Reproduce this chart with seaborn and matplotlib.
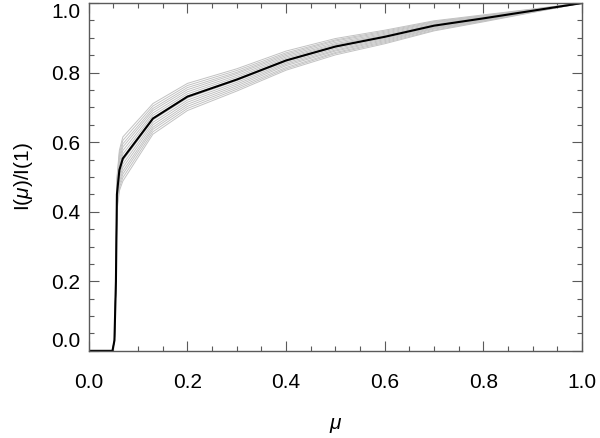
import numpy as np
import pandas as pd
import matplotlib
matplotlib.use('Agg')
import matplotlib.pyplot as plt
import seaborn as sns
from matplotlib.ticker import MultipleLocator

# mu grid shared by all profiles
mu = [0.0, 0.048, 0.052, 0.055, 0.057, 0.062, 0.069, 0.13, 0.2, 0.3,
      0.4, 0.5, 0.6, 0.7, 0.8, 0.9, 1.0]

# mean profile (black)
mean_profile = [0.0, 0.0, 0.03, 0.2, 0.45, 0.52, 0.553, 0.668, 0.731, 0.78,
                0.835, 0.875, 0.903, 0.935, 0.956, 0.978, 1.0]

# individual profiles (grey), same first four points as the mean
rise = [0.0, 0.0, 0.03, 0.2]
grey_profiles = [
    rise + [0.400, 0.460, 0.488, 0.623, 0.691, 0.747, 0.807, 0.851, 0.883, 0.920, 0.946, 0.973, 1.0],
    rise + [0.408, 0.469, 0.498, 0.630, 0.697, 0.752, 0.811, 0.855, 0.886, 0.922, 0.948, 0.974, 1.0],
    rise + [0.415, 0.478, 0.508, 0.637, 0.703, 0.757, 0.815, 0.858, 0.889, 0.925, 0.949, 0.975, 1.0],
    rise + [0.423, 0.487, 0.517, 0.643, 0.709, 0.762, 0.820, 0.862, 0.892, 0.927, 0.951, 0.975, 1.0],
    rise + [0.430, 0.496, 0.527, 0.650, 0.715, 0.767, 0.824, 0.865, 0.895, 0.929, 0.952, 0.976, 1.0],
    rise + [0.438, 0.505, 0.537, 0.657, 0.721, 0.772, 0.828, 0.869, 0.898, 0.931, 0.954, 0.977, 1.0],
    rise + [0.445, 0.514, 0.547, 0.664, 0.727, 0.777, 0.832, 0.873, 0.901, 0.934, 0.955, 0.978, 1.0],
    rise + [0.453, 0.523, 0.556, 0.670, 0.733, 0.782, 0.836, 0.876, 0.904, 0.936, 0.957, 0.978, 1.0],
    rise + [0.460, 0.532, 0.566, 0.677, 0.739, 0.787, 0.841, 0.880, 0.907, 0.938, 0.958, 0.979, 1.0],
    rise + [0.468, 0.541, 0.576, 0.684, 0.745, 0.792, 0.845, 0.883, 0.910, 0.940, 0.960, 0.980, 1.0],
    rise + [0.475, 0.550, 0.586, 0.691, 0.751, 0.797, 0.849, 0.887, 0.913, 0.943, 0.961, 0.981, 1.0],
    rise + [0.483, 0.559, 0.595, 0.697, 0.757, 0.801, 0.853, 0.891, 0.916, 0.945, 0.963, 0.981, 1.0],
    rise + [0.490, 0.568, 0.605, 0.704, 0.763, 0.806, 0.857, 0.894, 0.919, 0.947, 0.964, 0.982, 1.0],
    rise + [0.498, 0.577, 0.615, 0.711, 0.769, 0.811, 0.862, 0.898, 0.922, 0.949, 0.966, 0.983, 1.0],
]

sns.set_style('ticks')
plt.rcParams['font.family'] = ['Liberation Sans', 'DejaVu Sans']
plt.rcParams['mathtext.fontset'] = 'custom'
plt.rcParams['mathtext.it'] = 'Liberation Sans:italic'
plt.rcParams['mathtext.rm'] = 'Liberation Sans'

# long table of the grey profiles
rows = []
for k, prof in enumerate(grey_profiles):
    for m, v in zip(mu, prof):
        rows.append({'curve': k, 'mu': m, 'I': v})
grey_df = pd.DataFrame(rows)
mean_df = pd.DataFrame({'mu': mu, 'I': mean_profile})

fig = plt.figure(figsize=(6, 4.38), dpi=100)
ax = fig.add_axes([0.148, 0.199, 0.822, 0.794])

sns.lineplot(data=grey_df, x='mu', y='I', units='curve', estimator=None,
             color='#c2c2c2', lw=0.7, ax=ax)
sns.lineplot(data=mean_df, x='mu', y='I', color='black', lw=1.5, ax=ax)

ax.set_xlim(0, 1)
ax.set_ylim(0, 1)
ax.xaxis.set_major_locator(MultipleLocator(0.2))
ax.xaxis.set_minor_locator(MultipleLocator(0.05))
ax.yaxis.set_major_locator(MultipleLocator(0.2))
ax.yaxis.set_minor_locator(MultipleLocator(0.05))
ax.xaxis.set_major_formatter(plt.FormatStrFormatter('%.1f'))
ax.yaxis.set_major_formatter(plt.FormatStrFormatter('%.1f'))

for s in ax.spines.values():
    s.set_visible(True)
    s.set_color('#5a5a5a')
    s.set_linewidth(1.0)

ax.tick_params(which='both', direction='in', top=True, right=True,
               color='#5a5a5a', width=0.8, labelsize=15, labelcolor='black')
ax.tick_params(which='major', length=7)
ax.tick_params(which='minor', length=3.5)
ax.tick_params(axis='x', which='major', pad=16)
ax.tick_params(axis='y', which='major', pad=6)

ax.set_xlabel(r'$\mu$', fontsize=15, labelpad=17, color='black')
ax.set_ylabel(r'I($\mu$)/I(1)', fontsize=15, labelpad=12, color='black')

# end labels of the y axis sit inside the axis range, as in the original
fig.canvas.draw()
for t in ax.yaxis.get_major_ticks():
    loc = t.get_loc()
    if abs(loc) < 1e-9:
        t.label1.set_va('bottom')
    elif abs(loc - 1.0) < 1e-9:
        t.label1.set_va('top')

fig.savefig('out.png', dpi=100)
